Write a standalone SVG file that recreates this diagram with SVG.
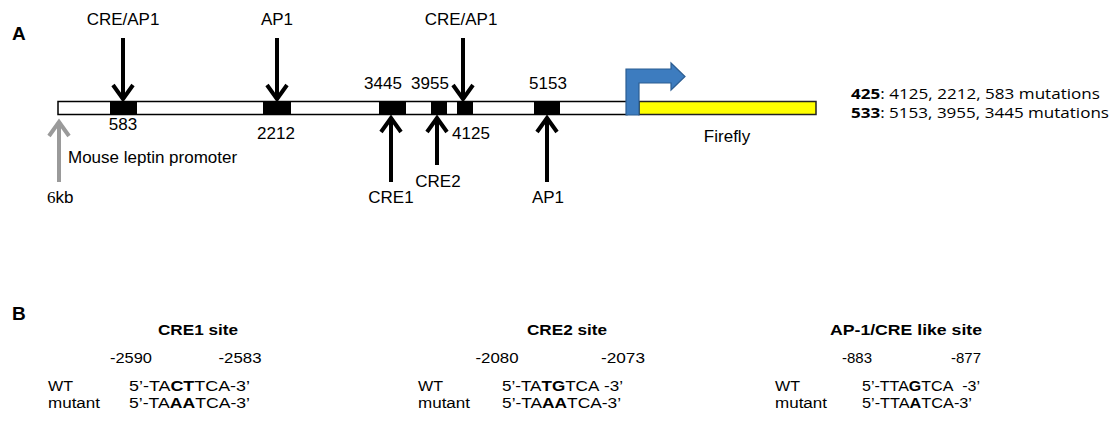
<svg xmlns="http://www.w3.org/2000/svg" width="1117" height="429" viewBox="0 0 1117 429">
<style>
  text { font-family: "Liberation Sans", Arial, sans-serif; fill: #000; }
  .lbl { font-size: 17px; }
  .mid { text-anchor: middle; }
  .panel { font-size: 19px; font-weight: bold; }
  .b { font-size: 15.5px; }
  .bb { font-size: 15.5px; font-weight: bold; }
  .cal { font-family: "Open Sans", "Noto Sans", sans-serif; font-size: 14px; }
  .site { fill: #000; }
  .arr { fill: none; stroke: #000; stroke-width: 4; stroke-linejoin: miter; stroke-linecap: butt; }
  .garr { fill: none; stroke: #9a9a9a; stroke-width: 4; stroke-linejoin: miter; }
</style>
<rect width="1117" height="429" fill="#fff"/>

<g id="panel-A-label"><text class="panel" x="12" y="40">A</text></g>

<g id="promoter">
  <rect x="58" y="101.5" width="569" height="13" fill="#fff" stroke="#000" stroke-width="1.5"/>
  <text class="lbl" x="68" y="163">Mouse leptin promoter</text>
</g>

<g id="site-583"><rect class="site" x="110" y="102" width="27" height="12"/><text class="lbl mid" x="123" y="130">583</text></g>
<g id="site-2212"><rect class="site" x="263" y="102" width="28" height="12"/><text class="lbl mid" x="276" y="139">2212</text></g>
<g id="site-3445"><rect class="site" x="379" y="102" width="27" height="12"/><text class="lbl mid" x="383" y="89">3445</text></g>
<g id="site-3955"><rect class="site" x="431" y="102" width="16" height="12"/><text class="lbl mid" x="430" y="89">3955</text></g>
<g id="site-4125"><rect class="site" x="457" y="102" width="16" height="12"/><text class="lbl mid" x="471" y="139">4125</text></g>
<g id="site-5153"><rect class="site" x="534" y="102" width="26" height="12"/><text class="lbl mid" x="548" y="89">5153</text></g>

<g id="firefly">
  <rect x="639" y="101.5" width="177" height="13" fill="#ffff00" stroke="#222" stroke-width="1.5"/>
  <text class="lbl mid" x="727" y="142">Firefly</text>
</g>

<g id="tss-arrow">
  <path d="M626,115 L626,69 L671,69 L671,63 L685,76.5 L671,90 L671,83 L639,83 L639,115 Z" fill="#3d7cbf" stroke="#2b5d92" stroke-width="1.2"/>
</g>

<g id="label-CRE-AP1-1"><text class="lbl mid" x="123" y="25">CRE/AP1</text></g>
<g id="label-AP1-top"><text class="lbl mid" x="277" y="25">AP1</text></g>
<g id="label-CRE-AP1-2"><text class="lbl mid" x="461" y="25">CRE/AP1</text></g>
<g id="label-CRE1"><text class="lbl mid" x="391" y="203">CRE1</text></g>
<g id="label-CRE2"><text class="lbl mid" x="438" y="187">CRE2</text></g>
<g id="label-AP1-bottom"><text class="lbl mid" x="548" y="203">AP1</text></g>
<g id="label-6kb"><text class="lbl" x="47" y="203"><tspan font-family="'Liberation Serif', serif">6</tspan>kb</text></g>

<g id="connectors">
  <path class="arr" d="M123,38 V99 M113,85 L123,99 L133,85"/>
  <path class="arr" d="M277,38 V99 M267,85 L277,99 L287,85"/>
  <path class="arr" d="M463,38 V99 M453,85 L463,99 L473,85"/>
  <path class="arr" d="M391,182 V118 M381,132 L391,118 L401,132"/>
  <path class="arr" d="M437,165 V118 M427,132 L437,118 L447,132"/>
  <path class="arr" d="M547,182 V118 M537,132 L547,118 L557,132"/>
  <path class="garr" d="M59,182 V122 M49,136 L59,122 L69,136"/>
</g>

<g id="mutations-legend">
  <text class="cal" x="851" y="99" textLength="249" lengthAdjust="spacingAndGlyphs"><tspan font-weight="bold">425</tspan>: 4125, 2212, 583 mutations</text>
  <text class="cal" x="851" y="118" textLength="258" lengthAdjust="spacingAndGlyphs"><tspan font-weight="bold">533</tspan>: 5153, 3955, 3445 mutations</text>
</g>

<g id="panel-B-label"><text class="panel" x="12" y="320">B</text></g>

<g id="cre1-site">
  <text class="bb mid" x="198" y="335" textLength="80" lengthAdjust="spacingAndGlyphs">CRE1 site</text>
  <text class="b mid" x="131" y="363" textLength="42" lengthAdjust="spacingAndGlyphs">-2590</text>
  <text class="b mid" x="240" y="363" textLength="43" lengthAdjust="spacingAndGlyphs">-2583</text>
  <text class="b" x="48" y="391" textLength="25" lengthAdjust="spacingAndGlyphs">WT</text>
  <text class="b" x="48" y="408" textLength="52" lengthAdjust="spacingAndGlyphs">mutant</text>
  <text class="b" x="129" y="391" textLength="121" lengthAdjust="spacingAndGlyphs">5’-TA<tspan font-weight="bold">CT</tspan>TCA-3’</text>
  <text class="b" x="129" y="408" textLength="121" lengthAdjust="spacingAndGlyphs">5’-TA<tspan font-weight="bold">AA</tspan>TCA-3’</text>
</g>

<g id="cre2-site">
  <text class="bb mid" x="567" y="335" textLength="80" lengthAdjust="spacingAndGlyphs">CRE2 site</text>
  <text class="b mid" x="497" y="363" textLength="43" lengthAdjust="spacingAndGlyphs">-2080</text>
  <text class="b mid" x="623" y="363" textLength="44" lengthAdjust="spacingAndGlyphs">-2073</text>
  <text class="b" x="418" y="391" textLength="25" lengthAdjust="spacingAndGlyphs">WT</text>
  <text class="b" x="418" y="408" textLength="52" lengthAdjust="spacingAndGlyphs">mutant</text>
  <text class="b" x="502" y="391" textLength="121" lengthAdjust="spacingAndGlyphs">5’-TA<tspan font-weight="bold">TG</tspan>TCA&#160;-3’</text>
  <text class="b" x="502" y="408" textLength="119" lengthAdjust="spacingAndGlyphs">5’-TA<tspan font-weight="bold">AA</tspan>TCA-3’</text>
</g>

<g id="ap1-cre-site">
  <text class="bb mid" x="906" y="335" textLength="152" lengthAdjust="spacingAndGlyphs">AP-1/CRE like site</text>
  <text class="b mid" x="857" y="363" textLength="30" lengthAdjust="spacingAndGlyphs">-883</text>
  <text class="b mid" x="966" y="363" textLength="30" lengthAdjust="spacingAndGlyphs">-877</text>
  <text class="b" x="775" y="391" textLength="25" lengthAdjust="spacingAndGlyphs">WT</text>
  <text class="b" x="775" y="408" textLength="52" lengthAdjust="spacingAndGlyphs">mutant</text>
  <text class="b" x="862" y="391" textLength="118" lengthAdjust="spacingAndGlyphs">5’-TTA<tspan font-weight="bold">G</tspan>TCA&#160;&#160;-3’</text>
  <text class="b" x="862" y="408" textLength="110" lengthAdjust="spacingAndGlyphs">5’-TTA<tspan font-weight="bold">A</tspan>TCA-3’</text>
</g>
</svg>
